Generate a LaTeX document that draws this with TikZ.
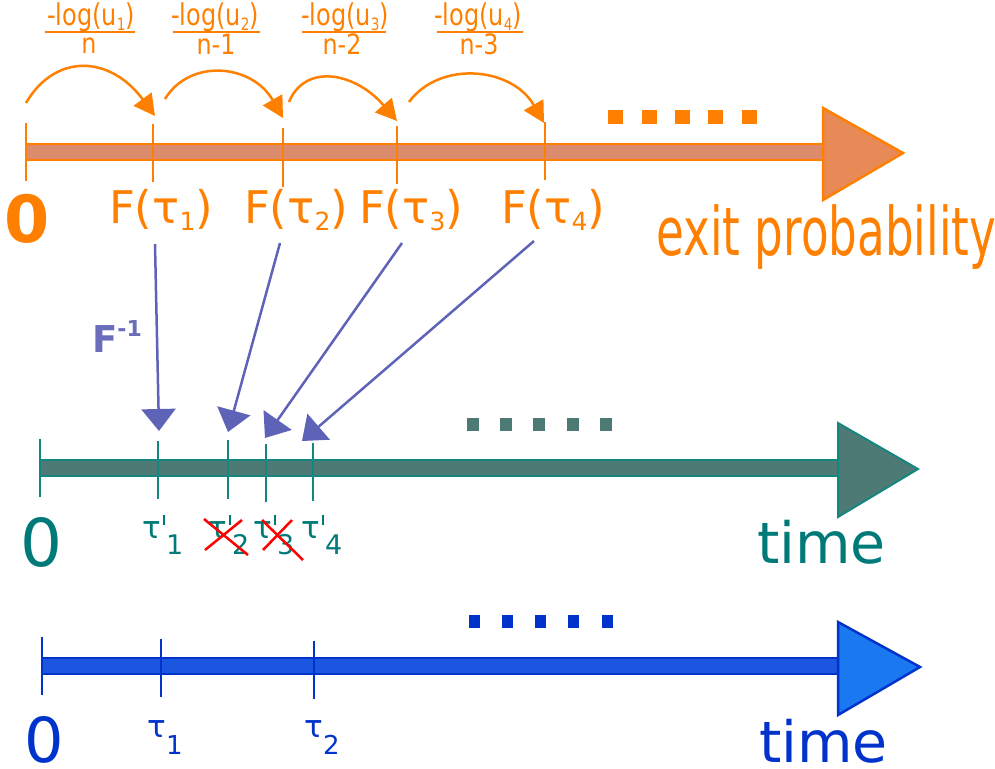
\documentclass[tikz,border=0pt]{standalone}
\usepackage{fontspec}
\setmainfont{DejaVu Sans}
\usepackage{graphicx}
\usetikzlibrary{arrows.meta}
\definecolor{orng}{HTML}{FF8000}
\definecolor{orbar}{HTML}{DC8C6C}
\definecolor{orhead}{HTML}{E88A58}
\definecolor{tealtx}{HTML}{007A78}
\definecolor{tealln}{HTML}{15857F}
\definecolor{tealfill}{HTML}{4E7A76}
\definecolor{bluetx}{HTML}{0033CC}
\definecolor{bluebar}{HTML}{1A56E0}
\definecolor{bluehead}{HTML}{1A78F0}
\definecolor{mapc}{HTML}{5F63B8}
\definecolor{finv}{HTML}{6A6EBA}
\newcommand\fs[1]{\fontsize{#1}{#1}\selectfont}
\newcommand\mysb[3]{\raisebox{-#1pt}{\fontsize{#2}{#2}\selectfont #3}}
\newcommand\prm{\hspace{0.04em}\rule[0.42em]{0.09em}{0.32em}\hspace{0.03em}}
\begin{document}
\begin{tikzpicture}[x=1pt,y=-1pt,
  tick/.style={line width=2.5pt},
  lbl/.style={inner sep=0pt, anchor=base},
  orarc/.style={orng, line width=2.5pt, -{Triangle[width=22pt,length=21pt]}},
  maparr/.style={mapc, line width=2.5pt, -{Triangle[width=34pt,length=22pt]}},
  cross/.style={red, line width=2.5pt}]
\useasboundingbox (0,0) rectangle (995,768);

% ---------- top axis (exit probability) ----------
\draw[orng, line width=2.5pt, fill=orbar] (26,144) rectangle (823,160);
\draw[orng, line width=2.5pt, fill=orhead] (823,108) -- (903,153) -- (823,200) -- cycle;
\draw[orng,tick] (26,123) -- (26,181);
\draw[orng,tick] (153,124) -- (153,182);
\draw[orng,tick] (283,128) -- (283,187);
\draw[orng,tick] (397,126) -- (397,184);
\draw[orng,tick] (545,122) -- (545,180);
\foreach \x in {608,642,675,708,742} \fill[orng] (\x,110) rectangle ++(15,14);

\node[lbl,orng] (zeroA) at (27,242) {\fs{65}\bfseries 0};
\node[lbl,orng] (F1) at (161,223) {\fs{45}F(τ\mysb{7}{25}{1})};
\node[lbl,orng] (F2) at (296,223) {\fs{45}F(τ\mysb{7}{25}{2})};
\node[lbl,orng] (F3) at (411,223) {\fs{45}F(τ\mysb{7}{25}{3})};
\node[lbl,orng] (F4) at (553,223) {\fs{45}F(τ\mysb{7}{25}{4})};
\node[lbl,orng,anchor=base west] (exitp) at (656,255) {\scalebox{0.675}[1]{\fs{67}exit probability}};

% fractions
\node[lbl,orng] (n1) at (91,26) {\fs{30}\scalebox{0.8}[1]{-log(u\mysb{5}{17}{1})}};
\node[lbl,orng] (n2) at (215,26) {\fs{30}\scalebox{0.8}[1]{-log(u\mysb{5}{17}{2})}};
\node[lbl,orng] (n3) at (345,26) {\fs{30}\scalebox{0.8}[1]{-log(u\mysb{5}{17}{3})}};
\node[lbl,orng] (n4) at (478,26) {\fs{30}\scalebox{0.8}[1]{-log(u\mysb{5}{17}{4})}};
\draw[orng, line width=2pt] (45,32) -- (135,32);
\draw[orng, line width=2pt] (173,32) -- (260,32);
\draw[orng, line width=2pt] (302,32) -- (386,32);
\draw[orng, line width=2pt] (437,32) -- (523,32);
\node[lbl,orng] (d1) at (89,54) {\fs{28}\scalebox{0.85}[1]{n}};
\node[lbl,orng] (d2) at (216,55) {\fs{28}\scalebox{0.85}[1]{n-1}};
\node[lbl,orng] (d3) at (342,55) {\fs{28}\scalebox{0.85}[1]{n-2}};
\node[lbl,orng] (d4) at (479,55) {\fs{28}\scalebox{0.85}[1]{n-3}};

% arcs
\coordinate (s1) at (26,103);  \coordinate (t1) at (155,116);
\coordinate (s2) at (165,99);  \coordinate (t2) at (283,118);
\coordinate (s3) at (289,102); \coordinate (t3) at (397,121);
\coordinate (s4) at (409,102); \coordinate (t4) at (544,123);
\draw[orarc] (s1) .. controls (55,53) and (110,55) .. (t1);
\draw[orarc] (s2) .. controls (190,58) and (252,64) .. (t2);
\draw[orarc] (s3) .. controls (305,63) and (355,72) .. (t3);
\draw[orarc] (s4) .. controls (440,60) and (512,67) .. (t4);

% ---------- F^-1 mapping ----------
\node[lbl,finv,anchor=base west] (finvl) at (92,352) {\fs{37}\bfseries F\raisebox{16pt}{\fs{22}\bfseries -1}};
\coordinate (f1) at (155,244); \coordinate (g1) at (159,431);
\coordinate (f2) at (280,243); \coordinate (g2) at (228,432);
\coordinate (f3) at (402,243); \coordinate (g3) at (265,438);
\coordinate (f4) at (534,241); \coordinate (g4) at (302,441);
\draw[maparr] (f1) -- (g1);
\draw[maparr] (f2) -- (g2);
\draw[maparr] (f3) -- (g3);
\draw[maparr] (f4) -- (g4);

% ---------- middle axis ----------
\draw[tealln, line width=2pt, fill=tealfill] (40,460) rectangle (838,476);
\draw[tealln, line width=2pt, fill=tealfill] (838,423) -- (918,469) -- (838,517) -- cycle;
\draw[tealln,tick] (40,439) -- (40,497);
\draw[tealln,tick] (158,441) -- (158,499);
\draw[tealln,tick] (228,440) -- (228,499);
\draw[tealln,tick] (266,444) -- (266,502);
\draw[tealln,tick] (313,443) -- (313,501);
\foreach \x in {467,500,533,567,600} \fill[tealfill] (\x,418) rectangle ++(12,13);

\node[lbl,tealtx] (zeroB) at (41,566) {\fs{66}0};
\node[lbl,tealtx] (tp1) at (163,538) {\fs{31}τ\prm\mysb{16}{27}{1}};
\node[lbl,tealtx] (tp2) at (229,538) {\fs{31}τ\prm\mysb{16}{27}{2}};
\node[lbl,tealtx] (tp3) at (274,538) {\fs{31}τ\prm\mysb{16}{27}{3}};
\node[lbl,tealtx] (tp4) at (322,538) {\fs{31}τ\prm\mysb{16}{27}{4}};
\node[lbl,tealtx,anchor=base west] (timeB) at (757,563) {\fs{57}time};
\draw[cross] (204,519) -- (248,555);
\draw[cross] (205,550) -- (242,520);
\draw[cross] (262,520) -- (303,560);
\draw[cross] (263,550) -- (292,520);

% ---------- bottom axis ----------
\draw[bluetx, line width=2.5pt, fill=bluebar] (42,658) rectangle (838,674);
\draw[bluetx, line width=2.5pt, fill=bluehead] (838,622) -- (920,667) -- (838,715) -- cycle;
\draw[bluetx,tick] (42,637) -- (42,695);
\draw[bluetx,tick] (161,639) -- (161,697);
\draw[bluetx,tick] (314,641) -- (314,699);
\foreach \x in {469,502,535,568,602} \fill[bluetx] (\x,615) rectangle ++(11,13);

\node[lbl,bluetx] (zeroC) at (44,762) {\fs{62}0};
\node[lbl,bluetx] (ta1) at (165,737) {\fs{31}τ\mysb{17}{26}{1}};
\node[lbl,bluetx] (ta2) at (322,737) {\fs{31}τ\mysb{17}{26}{2}};
\node[lbl,bluetx,anchor=base west] (timeC) at (759,762) {\fs{57}time};
\end{tikzpicture}
\end{document}
